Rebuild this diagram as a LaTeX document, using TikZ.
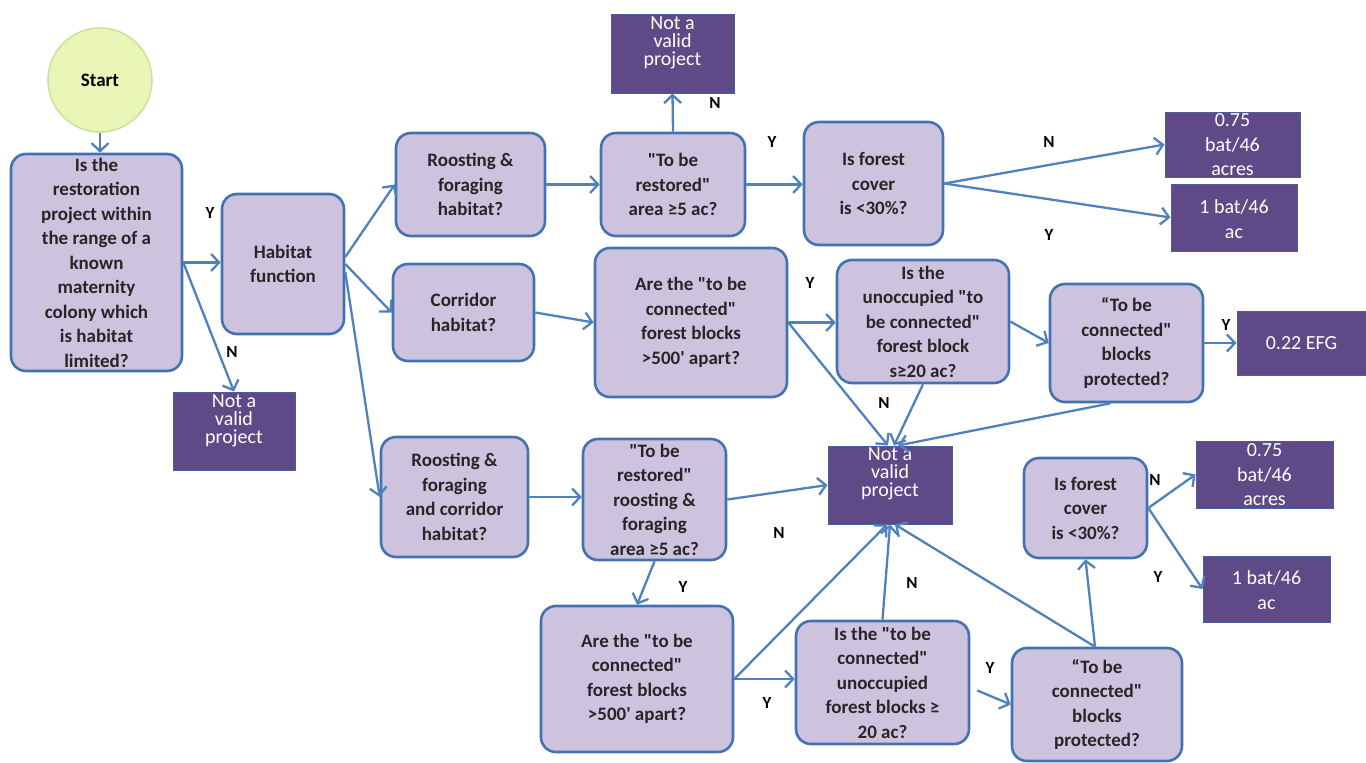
\documentclass[tikz,border=0pt]{standalone}
\usepackage{fontspec}
\setmainfont{Carlito}[Ligatures=TeXOff]
\usetikzlibrary{arrows.meta,calc}
\definecolor{lav}{HTML}{CDC3DF}
\definecolor{lavb}{HTML}{4472B0}
\definecolor{pur}{HTML}{5F4A87}
\definecolor{purb}{HTML}{4B5E9A}
\definecolor{arrc}{HTML}{4F81BD}
\definecolor{stf}{HTML}{EAF5B8}
\definecolor{stb}{HTML}{C9E29A}
\begin{document}
\begin{tikzpicture}[x=1pt,y=-1pt,
 lbox/.style={draw=lavb, fill=lav, line width=2.6pt, rounded corners=15pt, align=center, inner sep=0pt, font=\bfseries\fontsize{19}{24.5}\selectfont, text=black!85},
 pbox/.style={draw=purb, fill=pur, line width=1pt, inner sep=0pt},
 ptxt/.style={text=white, align=center, inner sep=0pt, font=\fontsize{20}{24.5}\selectfont},
 ntxt/.style={text=white, align=center, inner sep=0pt, font=\fontsize{20}{18}\selectfont},
 conn/.style={draw=arrc, line width=2.3pt, -{Straight Barb[length=8pt,width=17pt]}},
 yn/.style={font=\bfseries\fontsize{17}{17}\selectfont, inner sep=0pt},
]
\useasboundingbox (0,0) rectangle (1366,763);

% start
\node[circle, draw=stb, fill=stf, line width=1.5pt, minimum size=104pt, inner sep=0pt, font=\bfseries\fontsize{19}{20}\selectfont] (start) at (100,80) {Start};

% lavender boxes
\node[lbox, minimum width=171pt, minimum height=217pt] (q1) at (96.5,262.5) {Is the\\restoration\\project within\\the range of a\\known\\maternity\\colony which\\is habitat\\limited?};
\node[lbox, minimum width=122pt, minimum height=140pt] (hab) at (283,264) {Habitat\\function};
\node[lbox, minimum width=149pt, minimum height=103pt] (rf) at (470.5,184.5) {Roosting \&\\foraging\\habitat?};
\node[lbox, minimum width=141pt, minimum height=97pt] (cor) at (463.5,312.5) {Corridor\\habitat?};
\node[lbox, minimum width=147pt, minimum height=120pt] (rfc) at (454.5,497) {Roosting \&\\foraging\\and corridor\\habitat?};
\node[lbox, minimum width=144pt, minimum height=103pt] (tbr) at (673,184.5) {"To be\\restored"\\area ≥5 ac?};
\node[lbox, minimum width=192pt, minimum height=149pt] (acm) at (691,322.5) {Are the "to be\\connected"\\forest blocks\\>500' apart?};
\node[lbox, minimum width=143pt, minimum height=121pt] (tbrr) at (654.5,499.5) {"To be\\restored"\\roosting \&\\foraging\\area ≥5 ac?};
\node[lbox, minimum width=192pt, minimum height=146pt] (acb) at (637,679) {Are the "to be\\connected"\\forest blocks\\>500' apart?};
\node[lbox, minimum width=139pt, minimum height=123pt] (fct) at (873.5,183.5) {Is forest\\cover\\is <30\%?};
\node[lbox, minimum width=172pt, minimum height=123pt] (iu) at (923,321.5) {Is the\\unoccupied "to\\be connected"\\forest block\\s≥20 ac?};
\node[lbox, minimum width=173pt, minimum height=123pt] (itb) at (882.5,682.5) {Is the "to be\\connected"\\unoccupied\\forest blocks ≥\\20 ac?};
\node[lbox, minimum width=153pt, minimum height=118pt] (pm) at (1126.5,343) {“To be\\connected"\\blocks\\protected?};
\node[lbox, minimum width=123pt, minimum height=100pt] (fcb) at (1085.5,508) {Is forest\\cover\\is <30\%?};
\node[lbox, minimum width=170pt, minimum height=113pt] (pb) at (1097,704.5) {“To be\\connected"\\blocks\\protected?};

% purple boxes
\node[pbox, minimum width=122pt, minimum height=78pt] (nv1) at (234,431) {};
\node[ntxt] (nv1t) at (234,421) {Not a\\valid\\project};
\node[pbox, minimum width=123pt, minimum height=79pt] (nvt) at (672.5,53.5) {};
\node[ntxt] (nvtt) at (672.5,43) {Not a\\valid\\project};
\node[pbox, minimum width=124pt, minimum height=78pt] (nvc) at (890,485) {};
\node[ntxt] (nvct) at (890,474) {Not a\\valid\\project};
\node[pbox, minimum width=135pt, minimum height=65pt] (b075t) at (1232.5,144.5) {};
\node[ptxt] (b075tt) at (1232.5,145) {0.75\\bat/46\\acres};
\node[pbox, minimum width=126pt, minimum height=67pt] (b1t) at (1234,217.5) {};
\node[ptxt] (b1tt) at (1234,219) {1 bat/46\\ac};
\node[pbox, minimum width=133pt, minimum height=64pt] (efg) at (1303.5,343) {};
\node[ptxt] (efgt) at (1301.5,343) {0.22 EFG};
\node[pbox, minimum width=137pt, minimum height=67pt] (b075b) at (1264.5,474.5) {};
\node[ptxt] (b075bt) at (1264.5,475) {0.75\\bat/46\\acres};
\node[pbox, minimum width=127pt, minimum height=66pt] (b1b) at (1266.5,589) {};
\node[ptxt] (b1bt) at (1266.5,590) {1 bat/46\\ac};

% connectors
\draw[conn] (start.south) -- (start.south |- q1.north);
\draw[conn] (q1.east) -- (q1.east -| hab.west);
\draw[conn] (q1.east) -- (nv1.north);
\draw[conn] ([yshift=7pt]hab.east) -- (rf.west);
\draw[conn] (hab.east) -- (cor.west);
\draw[conn] ([yshift=-8pt]hab.east) -- (rfc.west);
\draw[conn] (rf.east) -- (rf.east -| tbr.west);
\draw[conn] (tbr.north) -- (nvt.south);
\draw[conn] (tbr.east) -- (tbr.east -| fct.west);
\draw[conn] (fct.east) -- (b075t.west);
\draw[conn] (fct.east) -- (b1t.west);
\draw[conn] (cor.east) -- (acm.west);
\draw[conn] (acm.east) -- (acm.east -| iu.west);
\draw[conn] (acm.east) -- ([xshift=-2pt]nvc.north);
\draw[conn] (iu.south) -- ([xshift=4pt]nvc.north);
\draw[conn] (iu.east) -- (pm.west);
\draw[conn] (pm.east) -- (pm.east -| efg.west);
\draw[conn] ([xshift=-16pt]pm.south) -- ([xshift=8pt]nvc.north);
\draw[conn] (rfc.east) -- (rfc.east -| tbrr.west);
\draw[conn] (tbrr.east) -- (nvc.west);
\draw[conn] (tbrr.south) -- (acb.north);
\draw[conn] (acb.east) -- (acb.east -| itb.west);
\draw[conn] (acb.east) -- ([xshift=-3pt]nvc.south);
\draw[conn] (itb.north) -- (nvc.south);
\draw[conn] ([xshift=7pt,yshift=-8pt]itb.east) -- (pb.west);
\draw[conn] ([xshift=-2pt]pb.north) -- ([xshift=5pt]nvc.south);
\draw[conn] ([xshift=-2pt]pb.north) -- (fcb.south);
\draw[conn] (fcb.east) -- (b075b.west);
\draw[conn] (fcb.east) -- (b1b.west);

% Y/N labels
\node[yn] (y1) at (210,213) {Y};
\node[yn] (n1) at (232,352) {N};
\node[yn] (n2) at (715,103) {N};
\node[yn] (y2) at (772,142) {Y};
\node[yn] (n3) at (1049,142) {N};
\node[yn] (y3) at (1049,235) {Y};
\node[yn] (y4) at (810,283) {Y};
\node[yn] (n4) at (884,403) {N};
\node[yn] (y5) at (1226,325) {Y};
\node[yn] (n5) at (779,533) {N};
\node[yn] (y6) at (683,587) {Y};
\node[yn] (y7) at (767,703) {Y};
\node[yn] (n6) at (912,583) {N};
\node[yn] (y8) at (990,668) {Y};
\node[yn] (n7) at (1155,480) {N};
\node[yn] (y9) at (1158,577) {Y};
\end{tikzpicture}
\end{document}
